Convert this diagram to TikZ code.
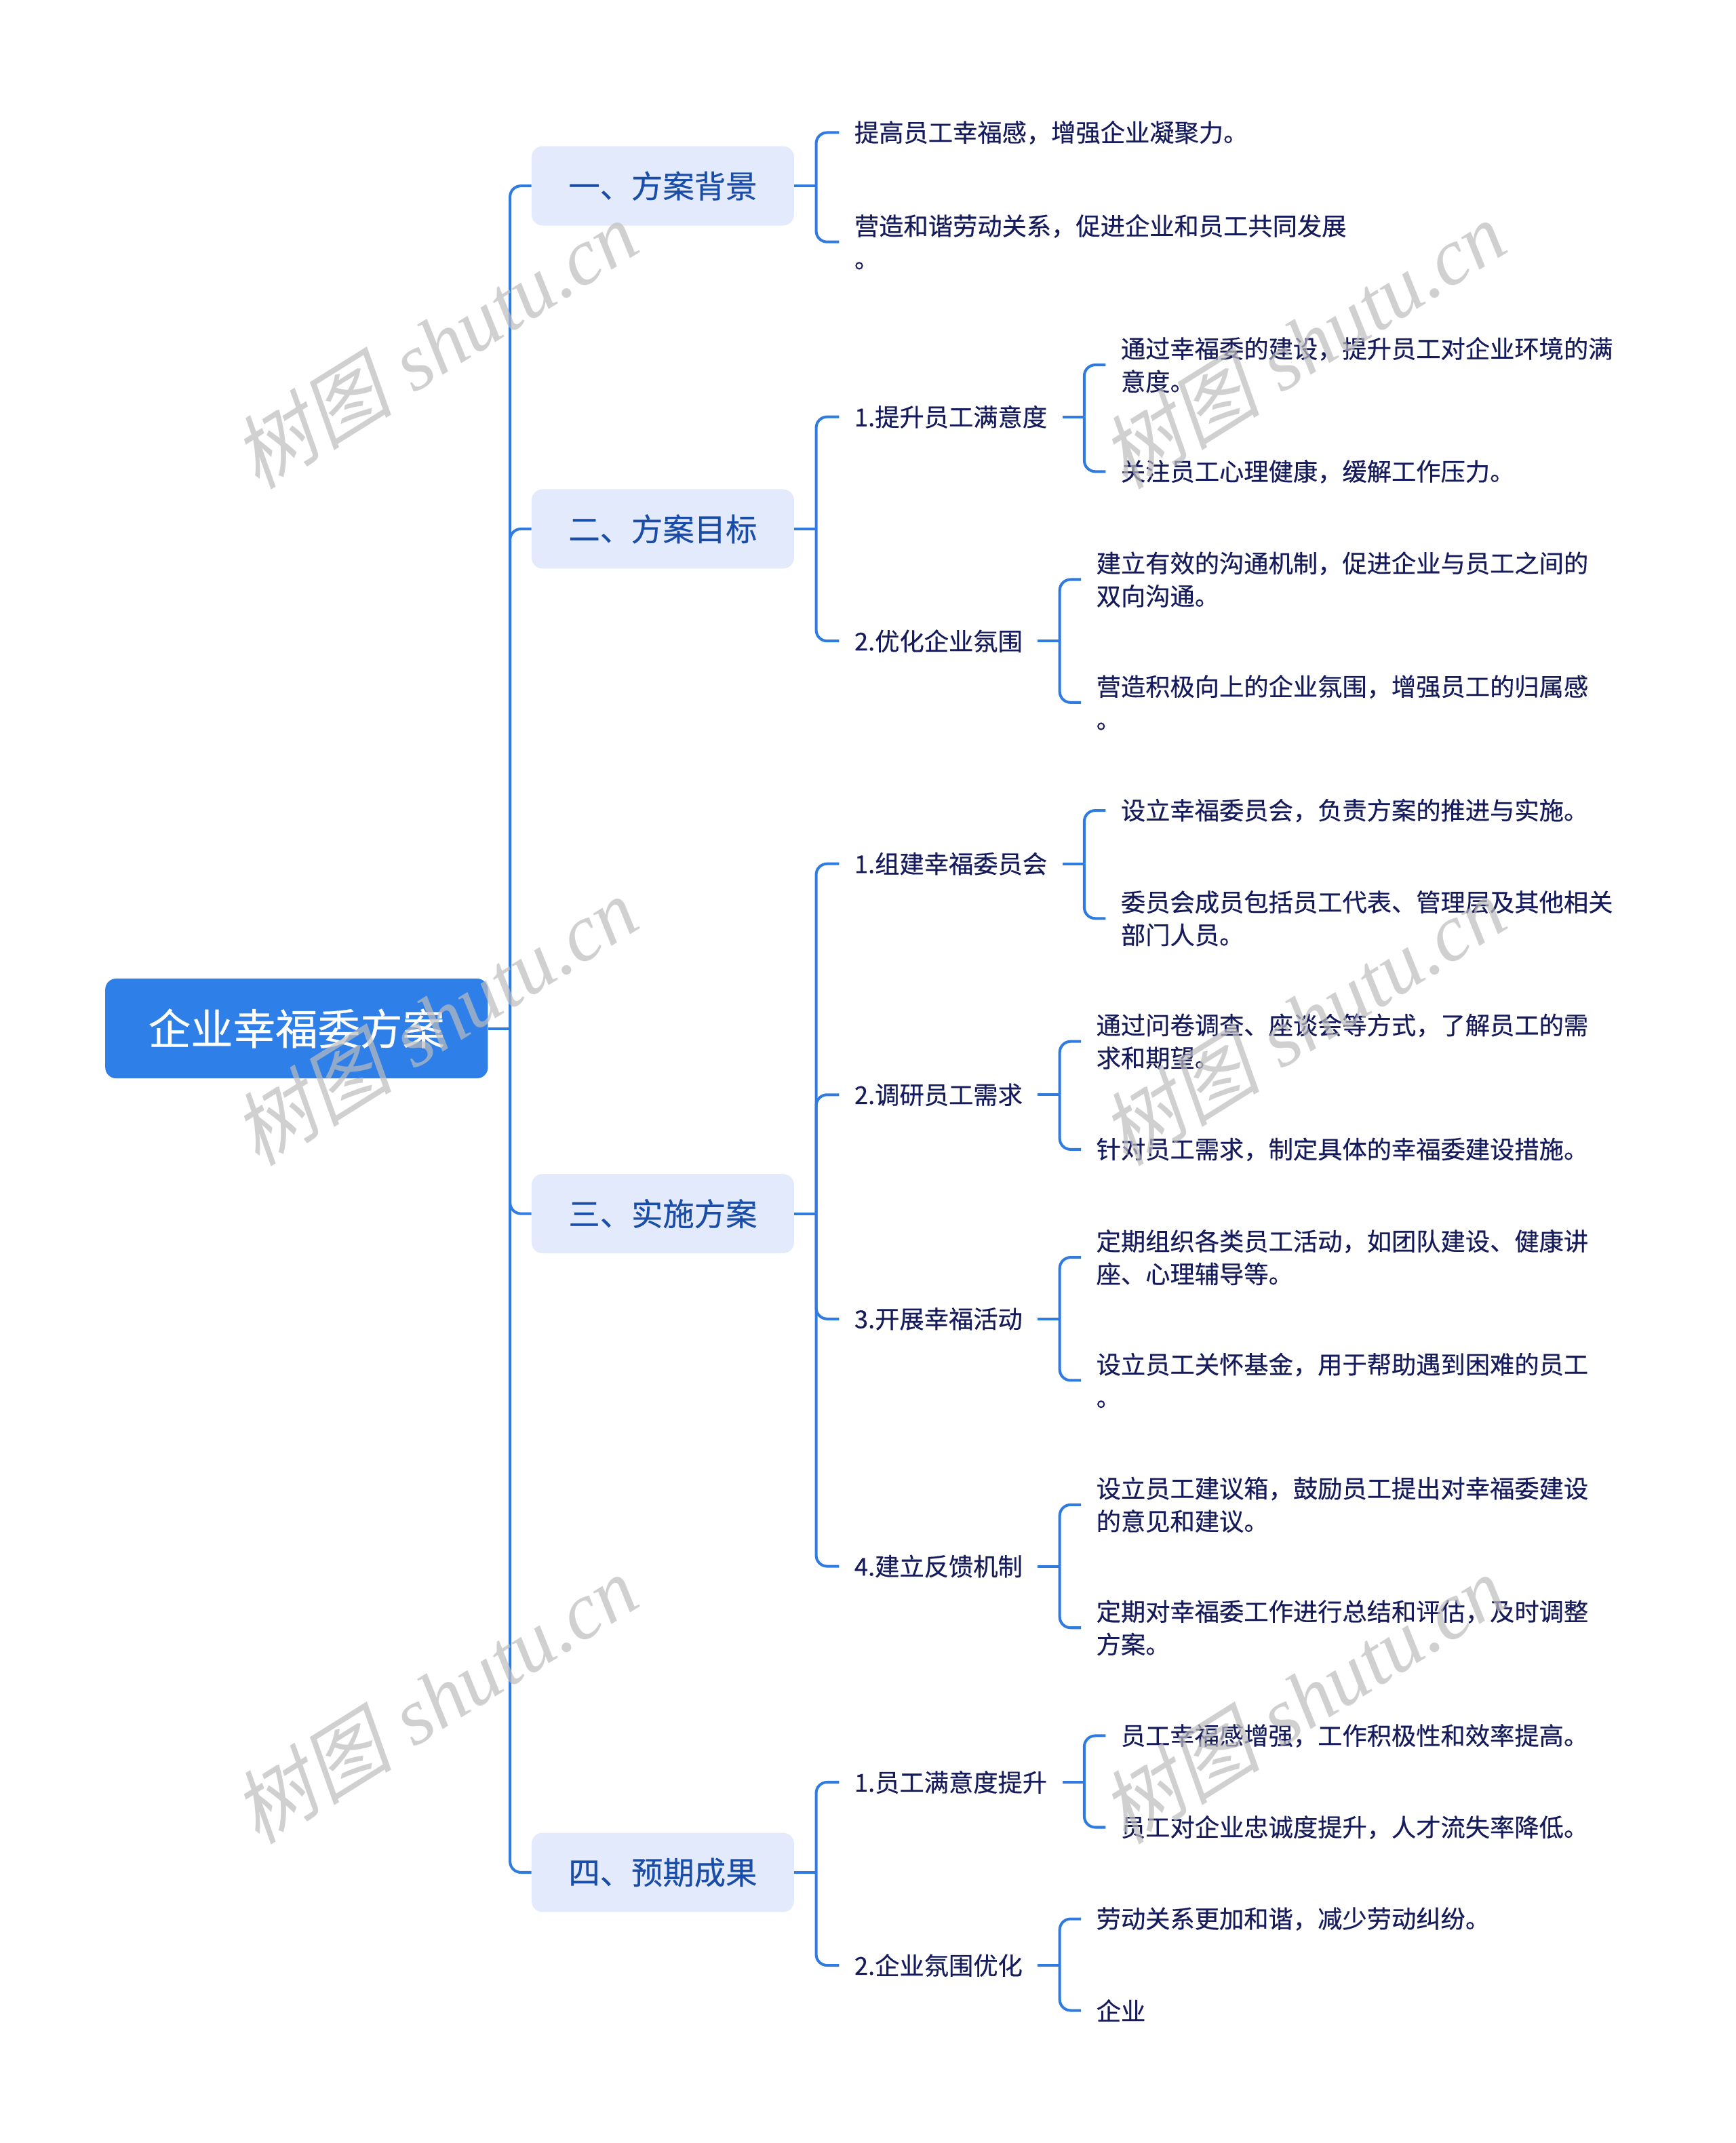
\documentclass[tikz,border=0pt]{standalone}
\usepackage{fontspec}
\setmainfont{Liberation Sans}
\newfontfamily\cjk[FakeBold=0.35]{Noto Sans CJK SC}
\newfontfamily\wmcjk[FakeSlant=0.22]{Noto Sans CJK SC}
\newfontfamily\wmlat{Liberation Serif}
\definecolor{rootblue}{HTML}{2F7FE8}
\definecolor{connblue}{HTML}{2F7BDF}
\definecolor{lonefill}{HTML}{E2EAFB}
\definecolor{lonetext}{HTML}{1A4DA8}
\definecolor{leaftext}{HTML}{161B5C}
\definecolor{wmgray}{HTML}{BDBDBD}
\newcommand\mmbranch[2]{%
  \draw[conn] (#1.east) -- ++(16,0) coordinate (#1-j);
  \foreach \ch in {#2} {\draw[elbow] (#1-j) |- (\ch.west);}
}
\begin{document}
\begin{tikzpicture}[x=1pt,y=-1pt,
  rootbox/.style={fill=rootblue, rounded corners=8pt, minimum width=280pt, minimum height=73pt, inner sep=0pt, text=white, font=\cjk\fontsize{31}{36}\selectfont},
  lonebox/.style={fill=lonefill, rounded corners=8pt, minimum width=192pt, minimum height=58pt, inner sep=0pt, text=lonetext, font=\cjk\fontsize{23}{28}\selectfont},
  leaf/.style={anchor=west, align=left, text=leaftext, font=\cjk\fontsize{18}{24}\selectfont, inner xsep=11pt, inner ysep=2pt},
  conn/.style={draw=connblue, line width=2pt},
  elbow/.style={conn, rounded corners=8pt},
  wm/.style={text=wmgray, opacity=0.7, rotate=32, inner sep=0pt}
]
\fill[white] (0,0) rectangle (1270,1568);
\useasboundingbox (0,0) rectangle (1270,1568);

% root and level 1
\node[rootbox] (root) at (217,752.5) {企业幸福委方案};
\node[lonebox] (a) at (485,136) {一、方案背景};
\node[lonebox] (b) at (485,387) {二、方案目标};
\node[lonebox] (c) at (485,888) {三、实施方案};
\node[lonebox] (d) at (485,1370) {四、预期成果};

% group a
\node[leaf] (a1) at (614,97) {提高员工幸福感，增强企业凝聚力。};
\node[leaf] (a2) at (614,177) {营造和谐劳动关系，促进企业和员工共同发展\\。};

% group b
\node[leaf] (b1) at (614,305) {1.提升员工满意度};
\node[leaf] (b2) at (614,469) {2.优化企业氛围};
\node[leaf] (b11) at (809,267) {通过幸福委的建设，提升员工对企业环境的满\\意度。};
\node[leaf] (b12) at (809,345) {关注员工心理健康，缓解工作压力。};
\node[leaf] (b21) at (791,424) {建立有效的沟通机制，促进企业与员工之间的\\双向沟通。};
\node[leaf] (b22) at (791,514) {营造积极向上的企业氛围，增强员工的归属感\\。};

% group c
\node[leaf] (c1) at (614,632) {1.组建幸福委员会};
\node[leaf] (c2) at (614,801) {2.调研员工需求};
\node[leaf] (c3) at (614,965) {3.开展幸福活动};
\node[leaf] (c4) at (614,1146) {4.建立反馈机制};
\node[leaf] (c11) at (809,593) {设立幸福委员会，负责方案的推进与实施。};
\node[leaf] (c12) at (809,672) {委员会成员包括员工代表、管理层及其他相关\\部门人员。};
\node[leaf] (c21) at (791,762) {通过问卷调查、座谈会等方式，了解员工的需\\求和期望。};
\node[leaf] (c22) at (791,841) {针对员工需求，制定具体的幸福委建设措施。};
\node[leaf] (c31) at (791,920) {定期组织各类员工活动，如团队建设、健康讲\\座、心理辅导等。};
\node[leaf] (c32) at (791,1010) {设立员工关怀基金，用于帮助遇到困难的员工\\。};
\node[leaf] (c41) at (791,1101) {设立员工建议箱，鼓励员工提出对幸福委建设\\的意见和建议。};
\node[leaf] (c42) at (791,1191) {定期对幸福委工作进行总结和评估，及时调整\\方案。};

% group d
\node[leaf] (d1) at (614,1304) {1.员工满意度提升};
\node[leaf] (d2) at (614,1438) {2.企业氛围优化};
\node[leaf] (d11) at (809,1270) {员工幸福感增强，工作积极性和效率提高。};
\node[leaf] (d12) at (809,1337) {员工对企业忠诚度提升，人才流失率降低。};
\node[leaf] (d21) at (791,1404) {劳动关系更加和谐，减少劳动纠纷。};
\node[leaf] (d22) at (791,1471) {企业};

% connectors
\mmbranch{root}{a,b,c,d}
\mmbranch{a}{a1,a2}
\mmbranch{b}{b1,b2}
\mmbranch{c}{c1,c2,c3,c4}
\mmbranch{d}{d1,d2}
\mmbranch{b1}{b11,b12}
\mmbranch{b2}{b21,b22}
\mmbranch{c1}{c11,c12}
\mmbranch{c2}{c21,c22}
\mmbranch{c3}{c31,c32}
\mmbranch{c4}{c41,c42}
\mmbranch{d1}{d11,d12}
\mmbranch{d2}{d21,d22}

% watermarks
\foreach \wx/\wy [count=\i] in {318/252, 953/252, 318/747, 953/747, 318/1243, 953/1243} {
  \node[wm] (wm\i) at (\wx,\wy) {\fontsize{59}{64}\selectfont{\wmcjk 树图} {\wmlat\itshape shutu.cn}};
}
\end{tikzpicture}
\end{document}
